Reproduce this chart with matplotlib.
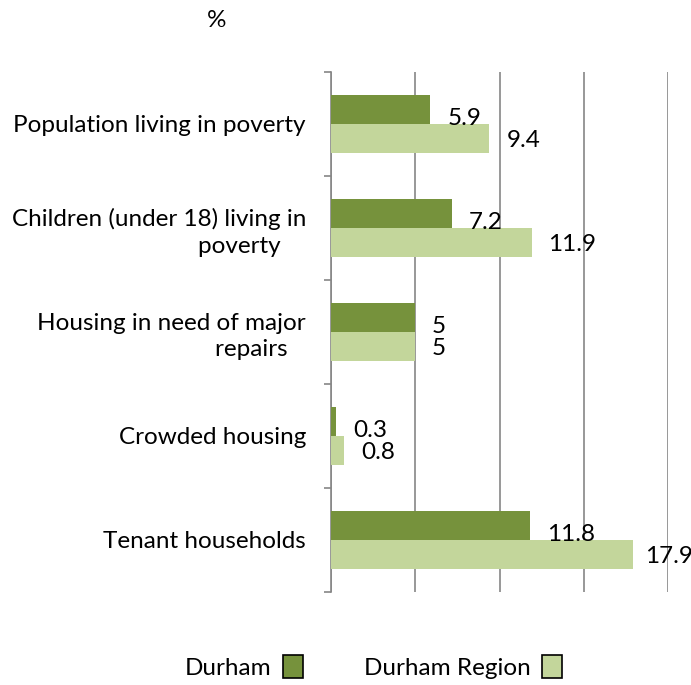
import numpy as np
import matplotlib.pyplot as plt
from matplotlib.patches import Patch

plt.rcParams['font.family'] = ['Lato', 'DejaVu Sans']

# data
categories = ['Population living in poverty',
              'Children (under 18) living in\npoverty    ',
              'Housing in need of major\nrepairs   ',
              'Crowded housing',
              'Tenant households']
durham = [5.9, 7.2, 5, 0.3, 11.8]
durham_region = [9.4, 11.9, 5, 0.8, 17.9]
series_names = ['Durham', 'Durham Region']

dark = '#76923c'
light = '#c3d69b'
grid_col = '#868686'
fs = 17.5

fig = plt.figure(figsize=(6.91, 6.85), dpi=100)
ax = fig.add_axes([0.479, 0.136, 0.488, 0.759])

y = np.arange(len(categories))
h = 0.28
ax.barh(y - h / 2, durham, height=h, color=dark, zorder=3)
ax.barh(y + h / 2, durham_region, height=h, color=light, zorder=3)

# value labels, kept inside the figure on the right
for yi, v in zip(y, durham):
    ax.text(min(v + 1.0, 18.6), yi - h / 2 + 0.09, f'{v:g}', va='center', ha='left', fontsize=fs)
for yi, v in zip(y, durham_region):
    ax.text(min(v + 1.0, 18.6), yi + h / 2 + 0.02, f'{v:g}', va='center', ha='left', fontsize=fs)

ax.set_xlim(0, 20)
ax.set_ylim(len(categories) - 0.5, -0.5)
ax.set_xticks([0, 5, 10, 15, 20])
ax.set_xticklabels([])
ax.tick_params(axis='x', length=0)
ax.grid(axis='x', color=grid_col, linewidth=1.2, zorder=0)

ax.set_yticks(y)
ax.set_yticklabels(categories, fontsize=fs, multialignment='right', linespacing=1.3)
ax.set_yticks(np.arange(len(categories) + 1) - 0.5, minor=True)
ax.tick_params(axis='y', which='major', length=0, pad=18)
ax.tick_params(axis='y', which='minor', length=5, color=grid_col, width=1.2)

for s in ['top', 'right', 'bottom']:
    ax.spines[s].set_visible(False)
ax.spines['left'].set_color(grid_col)
ax.spines['left'].set_linewidth(1.2)

fig.text(0.314, 0.97, '%', ha='center', va='center', fontsize=fs)

handles = [Patch(facecolor=dark, edgecolor='black', linewidth=1.2),
           Patch(facecolor=light, edgecolor='black', linewidth=1.2)]
fig.legend(handles, series_names, loc='center', bbox_to_anchor=(0.541, 0.026),
           ncol=2, frameon=False, markerfirst=False, fontsize=fs,
           handlelength=0.85, handleheight=1.05, columnspacing=2.5, handletextpad=0.45)

fig.savefig('out.png', dpi=100)
